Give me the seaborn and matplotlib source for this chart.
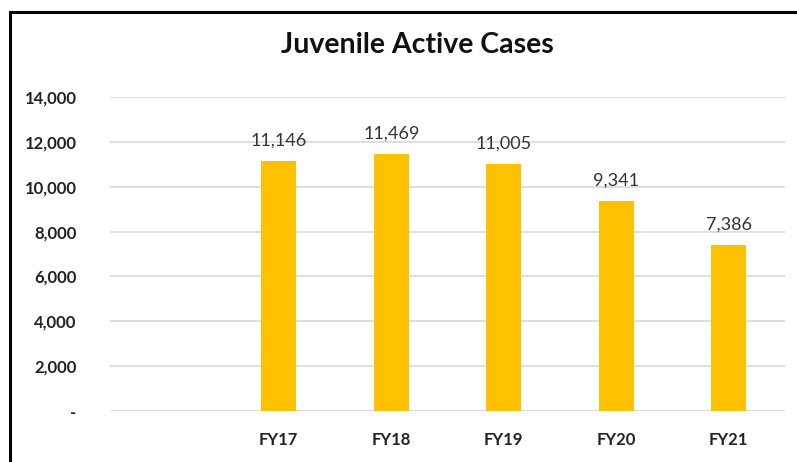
import matplotlib
matplotlib.use("Agg")
import matplotlib.pyplot as plt
import seaborn as sns
import pandas as pd
from matplotlib.patches import Rectangle

categories = ["", "FY17", "FY18", "FY19", "FY20", "FY21"]
values = [0, 11146, 11469, 11005, 9341, 7386]
labels = ["", "11,146", "11,469", "11,005", "9,341", "7,386"]
yticks = [0, 2000, 4000, 6000, 8000, 10000, 12000, 14000]
ytick_labels = ["-", "2,000", "4,000", "6,000", "8,000", "10,000", "12,000", "14,000"]

sns.set_theme(style="white")
plt.rcParams['font.family'] = ['Lato', 'DejaVu Sans']

W, H = 797, 462
fig = plt.figure(figsize=(W / 100, H / 100), dpi=100)
ax = fig.add_axes([110 / W, 1 - 411 / H, (785 - 110) / W, (411 - 97) / H])

df = pd.DataFrame({"cat": categories, "val": values})
sns.barplot(data=df, x="cat", y="val", order=categories, color="#FFC000",
            saturation=1, width=0.31, ax=ax, edgecolor="none")

ax.set_ylim(0, 14000)
ax.set_xlim(-0.5, 5.5)
ax.set_yticks(yticks)
ax.set_yticklabels(ytick_labels, fontsize=12, fontweight="bold", color="#222222")
ax.set_xticks(range(len(categories)))
ax.set_xticklabels(categories, fontsize=12, fontweight="bold", color="#222222")
ax.tick_params(axis="y", length=0, pad=24)
ax.tick_params(axis="x", length=0, pad=15)
ax.set_xlabel("")
ax.set_ylabel("")
for s in ax.spines.values():
    s.set_visible(False)
ax.grid(axis="y", color="#d9d9d9", linewidth=1.2)
ax.set_axisbelow(True)

for i, (v, lab) in enumerate(zip(values, labels)):
    if lab:
        ax.text(i, v + 560, lab, ha="center", va="bottom", fontsize=13, color="#333333")

fig.text(417 / W, 1 - 45 / H, "Juvenile Active Cases", ha="center", va="center",
         fontsize=20.5, fontweight="bold", color="#111111")

fig.patches.append(Rectangle((9.5 / W, -0.1), 1.2, 1.1 - 12.5 / H, transform=fig.transFigure,
                             fill=False, edgecolor="black", linewidth=2.2))

fig.savefig("out.png", dpi=100, facecolor="white")
